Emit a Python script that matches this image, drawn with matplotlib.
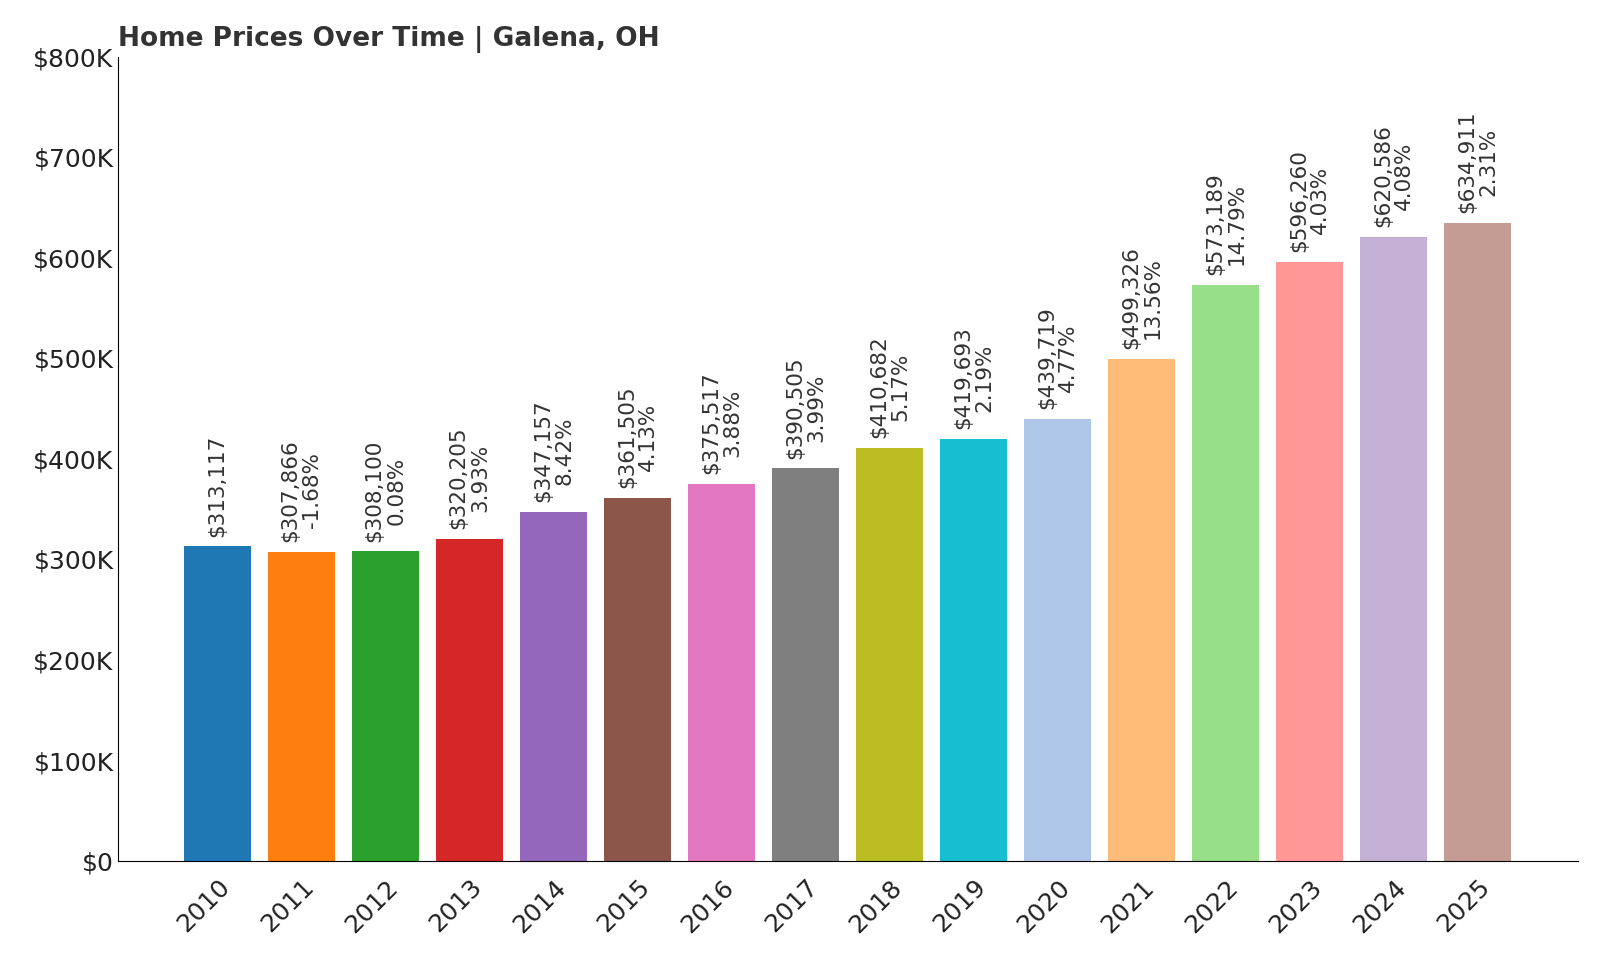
import matplotlib
matplotlib.use("Agg")
import matplotlib.pyplot as plt
from matplotlib.ticker import FuncFormatter

years = ['2010', '2011', '2012', '2013', '2014', '2015', '2016', '2017',
         '2018', '2019', '2020', '2021', '2022', '2023', '2024', '2025']
prices = [313117, 307866, 308100, 320205, 347157, 361505, 375517, 390505,
          410682, 419693, 439719, 499326, 573189, 596260, 620586, 634911]
changes = [None, '-1.68%', '0.08%', '3.93%', '8.42%', '4.13%', '3.88%', '3.99%',
           '5.17%', '2.19%', '4.77%', '13.56%', '14.79%', '4.03%', '4.08%', '2.31%']

colors = ['#1f77b4', '#ff7f0e', '#2ca02c', '#d62728', '#9467bd', '#8c564b',
          '#e377c2', '#7f7f7f', '#bcbd22', '#17becf', '#aec7e8', '#ffbb78',
          '#98df8a', '#ff9896', '#c5b0d5', '#c49c94']

fig = plt.figure(figsize=(16, 9.6), dpi=100)
ax = fig.add_axes([0.074, 0.103, 0.912, 0.838])

x = range(len(years))
bars = ax.bar(x, prices, width=0.8, color=colors)

# value and change labels above each bar
for i, (bar, p, c) in enumerate(zip(bars, prices, changes)):
    label = f'${p:,}' if c is None else f'${p:,}\n{c}'
    ax.annotate(label, (bar.get_x() + bar.get_width() / 2, p),
                xytext=(0, 7), textcoords='offset points',
                rotation=90, ha='center', va='bottom',
                fontsize=15.5, color='#333333', linespacing=1.1)

ax.set_ylim(0, 800000)
ax.set_xlim(-1.18, 16.19)
ax.yaxis.set_major_formatter(FuncFormatter(lambda v, _: '$0' if v == 0 else f'${int(v / 1000)}K'))
ax.set_xticks(list(x))
ax.set_xticklabels(years, rotation=45, ha='right', rotation_mode='anchor')
ax.tick_params(axis='both', labelsize=18, length=0, colors='#222222')
ax.tick_params(axis='x', pad=10)

ax.spines['top'].set_visible(False)
ax.spines['right'].set_visible(False)

ax.set_title('Home Prices Over Time | Galena, OH', loc='left',
             fontsize=19, fontweight='bold', color='#333333', pad=8)

fig.savefig('out.png', dpi=100)
